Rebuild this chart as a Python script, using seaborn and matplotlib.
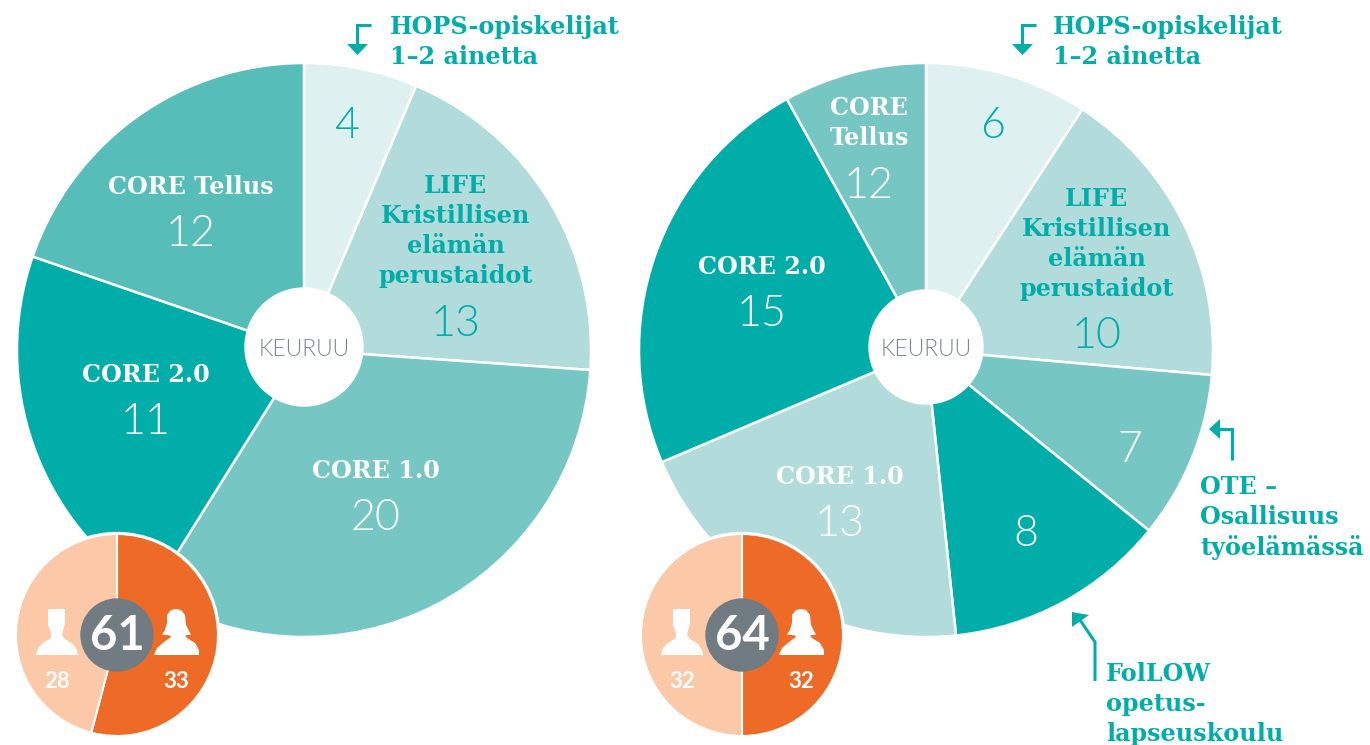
# Two KEURUU pies with small gender pies on top
import seaborn as sns
import matplotlib
import matplotlib.pyplot as plt
matplotlib.use('Agg')

sns.set_theme(style="white")
plt.rcParams['font.family'] = ['Lato', 'DejaVu Sans']

W, H = 1370, 745
SLAB = 'DejaVu Serif'

pale, light, mid, soft, dark = "#def0f0", "#b1dcdb", "#76c6c3", "#57bdb9", "#00ada9"
peach, orange, grey = "#fbc8a8", "#ee6b27", "#707b82"

# counts printed in the wedges
left_names = ["", "LIFE\nKristillisen\nelämän\nperustaidot", "CORE 1.0", "CORE 2.0", "CORE Tellus"]
left_counts = [4, 13, 20, 11, 12]
# the wedges are not drawn to scale, so the spans are read off in degrees
left_spans = [23, 71, 118, 77, 71]
left_colors = [pale, light, mid, dark, soft]

right_names = ["", "LIFE\nKristillisen\nelämän\nperustaidot", "", "", "CORE 1.0", "CORE 2.0", "CORE\nTellus"]
right_counts = [6, 10, 7, 8, 13, 15, 12]
right_spans = [33, 62, 34, 45, 73, 84, 29]
right_colors = [pale, light, mid, dark, light, dark, mid]

left_gender = [33, 28]
left_total = 61
right_gender = [32, 32]
right_total = 64

hops_note = "HOPS-opiskelijat\n1–2 ainetta"
ote_note = "OTE –\nOsallisuus\ntyöelämässä"
follow_note = "FolLOW\nopetus-\nlapseuskoulu"

fig = plt.figure(figsize=(W / 100, H / 100), dpi=100)
ax = fig.add_axes([0, 0, 1, 1])


def big_pie(cx, spans, colors, hole):
    ax.pie(spans, colors=colors, center=(cx, H - 350), radius=287, startangle=90,
           counterclock=False, wedgeprops={"edgecolor": "white", "linewidth": 1.8})
    ax.add_patch(plt.Circle((cx, H - 347), hole, color="white", zorder=1))
    ax.text(cx, H - 350, "KEURUU", color="#7d858a", fontsize=16.5, fontweight=300,
            ha="center", va="center")


def person(cx, points):
    xs = [cx + p[0] for p in points]
    ys = [H - 635 - p[1] for p in points]
    ax.fill(xs, ys, color="white", lw=0, zorder=2)


def small_pie(cx, gender, total):
    ax.add_patch(plt.Circle((cx, H - 635), 102.5, color="white", zorder=1))
    ax.pie(gender, colors=[orange, peach], center=(cx, H - 635), radius=101, startangle=90,
           counterclock=False, wedgeprops={"edgecolor": "white", "linewidth": 1.5})
    # man
    person(cx, [(-69, -26), (-52, -26), (-52, -12), (-55, 0), (-52, 4), (-44, 9), (-40, 15),
                (-39, 20), (-81, 20), (-79, 13), (-74, 8), (-66, 3), (-66, -2), (-69, -10)])
    # woman
    person(cx, [(59, -26), (64, -25), (68, -20), (69, -10), (72, -4), (74, -0.5), (68, 0.5),
                (70, 3), (78, 8), (82, 15), (82, 20), (37, 20), (40, 13), (47, 7), (54, 2),
                (53, 0.5), (45, -0.5), (48, -5), (50, -12), (50, -20), (54, -25)])
    ax.add_patch(plt.Circle((cx, H - 635), 36, color=grey, zorder=2))
    ax.text(cx, H - 636, str(total), color="white", fontsize=34, fontweight="bold",
            ha="center", va="center")
    ax.text(cx - 60, H - 681, str(gender[1]), color="white", fontsize=16, fontweight="bold",
            ha="center", va="center")
    ax.text(cx + 59, H - 681, str(gender[0]), color="white", fontsize=16, fontweight="bold",
            ha="center", va="center")


def wedge_text(x, y, name, count, color, line=30, gap=46):
    # y is the centre of the number, the name stacks above it
    ax.text(x, H - y - 4, str(count), color=color, fontsize=31, fontweight=300,
            ha="center", va="center")
    lines = name.split("\n") if name else []
    for i, s in enumerate(lines):
        ax.text(x, H - (y - gap - (len(lines) - 1 - i) * line) - 2, s, color=color, fontsize=17.2,
                family=SLAB, fontweight="bold", ha="center", va="center")


def note(x, y, s):
    for i, t in enumerate(s.split("\n")):
        ax.text(x, H - (y + i * 30), t, color=dark, fontsize=17.2, family=SLAB,
                fontweight="bold", ha="left", va="center")


def arrow(line_pts, head_pts):
    ax.plot([p[0] for p in line_pts], [H - p[1] for p in line_pts], color=dark, lw=2.2,
            solid_joinstyle="miter", solid_capstyle="butt")
    ax.fill([p[0] for p in head_pts], [H - p[1] for p in head_pts], color=dark, lw=0)


big_pie(304, left_spans, left_colors, 59)
big_pie(926, right_spans, right_colors, 57)

left_pos = [(347, 123), (456, 320), (376, 515), (146, 419), (191, 231)]
left_text = [dark, dark, "white", "white", "white"]
for i, c in enumerate(left_counts):
    wedge_text(left_pos[i][0], left_pos[i][1], left_names[i], c, left_text[i])

right_pos = [(993, 123), (1097, 333), (1130, 446), (1026, 531), (840, 521), (762, 311), (869, 182)]
right_text = [dark, dark, "white", "white", "white", "white", "white"]
for i, c in enumerate(right_counts):
    wedge_text(right_pos[i][0], right_pos[i][1], right_names[i], c, right_text[i])

small_pie(117, left_gender, left_total)
small_pie(742, right_gender, right_total)

note(390, 27, hops_note)
note(1053, 27, hops_note)
note(1200, 487, ote_note)
note(1106, 674, follow_note)

for dx in (0, 665):
    arrow([(371 + dx, 25), (357 + dx, 25), (357 + dx, 45)],
          [(347 + dx, 44), (368 + dx, 44), (357.5 + dx, 55)])
arrow([(1232, 460), (1232, 429), (1218, 429)], [(1209, 429), (1220, 419), (1220, 439)])
arrow([(1095, 681), (1095, 642), (1080, 620)], [(1072, 612), (1072, 627), (1089, 615)])

ax.set_xlim(0, W)
ax.set_ylim(0, H)
ax.set_aspect("equal")
ax.axis("off")
fig.savefig("out.png", dpi=100, facecolor="white")
